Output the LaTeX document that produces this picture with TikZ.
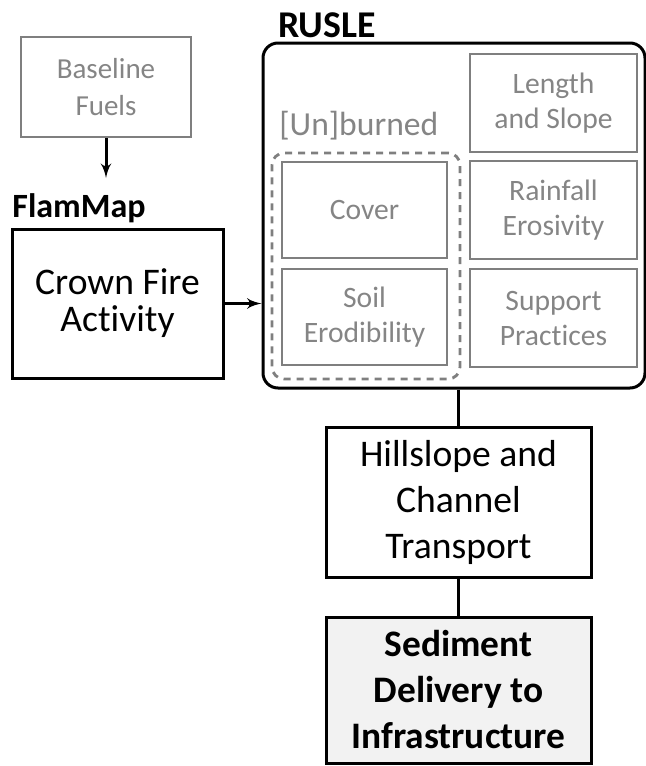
\documentclass[tikz,border=0pt]{standalone}
\usepackage{fontspec}
\setmainfont{Carlito}[Ligatures=NoCommon]
\usepackage{xcolor}
\usetikzlibrary{shapes,arrows,positioning,calc,fit}

\definecolor{softgray}{HTML}{858585}
\definecolor{boxgray}{HTML}{7F7F7F}
\definecolor{sedfill}{HTML}{F2F2F2}

\begin{document}
\begin{tikzpicture}[x=0.5pt, y=-0.5pt,
    block/.style={rectangle, draw=black, line width=1.5pt, align=center, inner sep=0pt, minimum width=105.5pt, minimum height=74.5pt, font=\fontsize{18.8}{18.5}\selectfont},
    block_flow/.style={rectangle, draw=black, line width=1.5pt, align=center, inner sep=0pt, minimum width=132.5pt, minimum height=75pt, font=\fontsize{18.8}{23}\selectfont},
    block_gray/.style={rectangle, draw=boxgray, line width=1.3pt, text=softgray, align=center, inner sep=0pt, minimum width=83.5pt, minimum height=49pt, font=\fontsize{14.8}{17.5}\selectfont},
    title/.style={anchor=base west, inner sep=0pt, font=\fontsize{16}{18}\selectfont\bfseries},
    line/.style={draw, -latex', line width=1.5pt},
    link/.style={draw, line width=1.5pt}]

    \useasboundingbox (0,0) rectangle (646,766);

    % fire side
    \node [block_gray, minimum width=85pt, minimum height=50pt, font=\fontsize{14.5}{18.5}\selectfont] (fuels) at (106,87) {Baseline\\Fuels};
    \coordinate (fuelsend) at (106,178);
    \node [title, font=\fontsize{17}{18}\selectfont\bfseries] (flammap) at (12,217) {FlamMap};
    \node [block] (crown) at (117.5,303.5) {Crown Fire\\Activity};

    % RUSLE factors
    \node [rectangle, draw=black, line width=1.5pt, rounded corners=7.5pt, minimum width=191pt, minimum height=172.5pt] (rusle) at (454,215.5) {};
    \node [title, font=\fontsize{18.9}{20}\selectfont\bfseries] (ruslelabel) at (278,37) {RUSLE};
    \node [block_gray] (length) at (553.5,103) {Length\\and Slope};
    \node [block_gray] (rain) at (553.5,210) {Rainfall\\Erosivity};
    \node [block_gray] (support) at (553.5,318) {Support\\Practices};
    \node [block_gray, minimum width=82.5pt, minimum height=48pt] (cover) at (364.5,210) {Cover};
    \node [block_gray, minimum width=82.5pt, minimum height=48pt] (soil) at (364.5,317) {Soil\\Erodibility};
    \node [draw=boxgray, dash pattern=on 3.5pt off 3pt, line width=1.4pt, rounded corners=6pt, inner sep=0pt, fit={(272,153) (460,379)}] (burn) {};
    \node [title, font=\fontsize{16.8}{18}\selectfont, text=softgray] (burnlabel) at (279,135) {[Un]burned};

    % transport
    \node [block_flow] (hill) at (458.5,502) {Hillslope and\\Channel\\Transport};
    \node [block_flow, fill=sedfill, minimum height=73pt, font=\fontsize{18.7}{23}\selectfont\bfseries] (sed) at (458.5,690) {Sediment\\Delivery to\\Infrastructure};

    \path [line] (fuels) -- (fuelsend);
    \path [line] (crown.east) -- (crown.east -| rusle.west);
    \path [link] (hill.north |- rusle.south) -- (hill.north);
    \path [link] (hill) -- (sed);
\end{tikzpicture}
\end{document}
